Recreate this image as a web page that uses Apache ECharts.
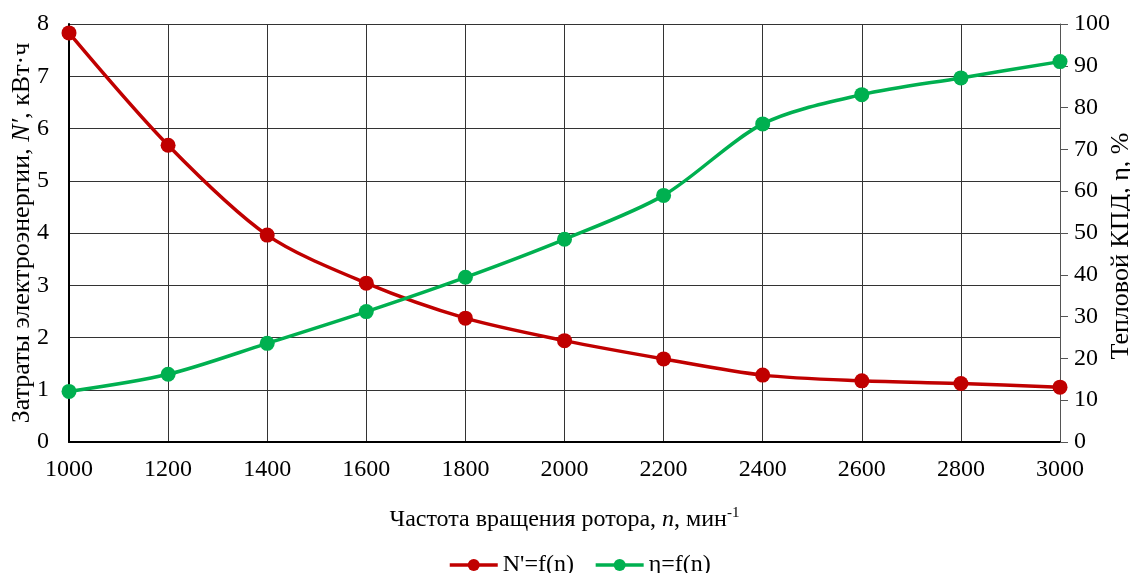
<!DOCTYPE html>
<html>
<head>
<meta charset="utf-8">
<script src="https://cdn.jsdelivr.net/npm/echarts@6/dist/echarts.min.js"></script>
<style>
html,body{margin:0;padding:0;background:#fff;}
#chart{width:1130px;height:573px;}
</style>
</head>
<body>
<div id="chart"></div>
<script>
const rpm = [1000, 1200, 1400, 1600, 1800, 2000, 2200, 2400, 2600, 2800, 3000];
const energyN = [7.83, 5.68, 3.96, 3.04, 2.37, 1.94, 1.59, 1.28, 1.17, 1.12, 1.05];
const efficiency = [12.1, 16.2, 23.6, 31.2, 39.4, 48.5, 59.0, 76.1, 83.1, 87.1, 91.0];
const seriesNames = ["N'=f(n)", "η=f(n)"];

const font = '"Liberation Serif", "Times New Roman", serif';
const RED = '#C00000';
const GREEN = '#00B050';

const chart = echarts.init(document.getElementById('chart'), null, {renderer: 'canvas'});
chart.setOption({
  backgroundColor: '#ffffff',
  animation: false,
  textStyle: {fontFamily: font, color: '#000'},
  grid: {left: 69, right: 70, top: 24, bottom: 131, containLabel: false, outerBoundsMode: 'none'},
  legend: {
    data: seriesNames,
    left: 443,
    top: 548,
    itemWidth: 48,
    itemHeight: 15,
    itemGap: 20,
    lineStyle: {width: 3.5},
    textStyle: {fontFamily: font, fontSize: 24, color: '#000'}
  },
  xAxis: {
    type: 'value',
    min: 1000, max: 3000, interval: 200,
    name: '{t|Частота вращения ротора, }{i|n}{t|, мин}{s|-1}',
    nameLocation: 'middle',
    nameGap: 64,
    nameMoveOverlap: false,
    nameTextStyle: {
      rich: {
        t: {fontFamily: font, fontSize: 24, color: '#000'},
        i: {fontFamily: font, fontSize: 24, fontStyle: 'italic', color: '#000'},
        s: {fontFamily: font, fontSize: 15, color: '#000', verticalAlign: 'top', padding: [0,0,12,0]}
      }
    },
    axisLine: {show: true, lineStyle: {color: '#000', width: 2}},
    axisTick: {show: false},
    axisLabel: {fontFamily: font, fontSize: 24, color: '#000', margin: 16, formatter: v => String(v)},
    splitLine: {show: true, lineStyle: {color: '#333', width: 1}}
  },
  yAxis: [
    {
      type: 'value',
      min: 0, max: 8, interval: 1,
      position: 'left',
      name: '{t|Затраты электроэнергии, }{i|N\u2032}{t|, кВт·ч}',
      nameLocation: 'middle',
      nameGap: 34,
      nameMoveOverlap: false,
      nameTextStyle: {
        rich: {
          t: {fontFamily: font, fontSize: 26, color: '#000'},
          i: {fontFamily: font, fontSize: 26, fontStyle: 'italic', color: '#000'}
        }
      },
      axisLine: {show: true, lineStyle: {color: '#000', width: 2}},
      axisTick: {show: false},
      axisLabel: {fontFamily: font, fontSize: 24, color: '#000', margin: 20},
      splitLine: {show: true, lineStyle: {color: '#333', width: 1}}
    },
    {
      type: 'value',
      min: 0, max: 100, interval: 10,
      position: 'right',
      name: 'Тепловой КПД, η, %',
      nameLocation: 'middle',
      nameGap: 48,
      nameMoveOverlap: false,
      nameTextStyle: {fontFamily: font, fontSize: 26, color: '#000', padding: [0, 26, 0, 0]},
      axisLine: {show: true, lineStyle: {color: '#555', width: 1}},
      axisTick: {show: true, inside: false, length: 8, lineStyle: {color: '#555', width: 1}},
      axisLabel: {fontFamily: font, fontSize: 24, color: '#000', margin: 14},
      splitLine: {show: false}
    }
  ],
  series: [
    {
      name: seriesNames[0],
      type: 'line',
      yAxisIndex: 0,
      smooth: 0.3,
      data: rpm.map((x, i) => [x, energyN[i]]),
      symbol: 'circle',
      symbolSize: 15,
      lineStyle: {color: RED, width: 3.5},
      itemStyle: {color: RED}
    },
    {
      name: seriesNames[1],
      type: 'line',
      yAxisIndex: 1,
      smooth: 0.3,
      data: rpm.map((x, i) => [x, efficiency[i]]),
      symbol: 'circle',
      symbolSize: 15,
      lineStyle: {color: GREEN, width: 3.5},
      itemStyle: {color: GREEN}
    }
  ]
});
</script>
</body>
</html>
